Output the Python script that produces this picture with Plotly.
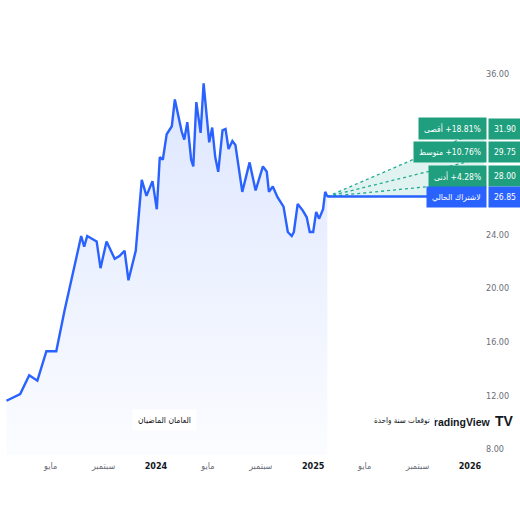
import plotly.graph_objects as go

# ---------------- data ----------------
dates = [
    "2023-01-18", "2023-02-19", "2023-03-12", "2023-03-31", "2023-04-21", "2023-05-14",
    "2023-06-02", "2023-06-14", "2023-06-30", "2023-07-11", "2023-07-18", "2023-07-25",
    "2023-08-16", "2023-08-25", "2023-09-08", "2023-09-27", "2023-10-08", "2023-10-20",
    "2023-10-29", "2023-11-15", "2023-11-29", "2023-12-10", "2023-12-24", "2024-01-03",
    "2024-01-10", "2024-01-17", "2024-01-26", "2024-02-07", "2024-02-14", "2024-03-01",
    "2024-03-07", "2024-03-14", "2024-03-23", "2024-03-28", "2024-04-04", "2024-04-14",
    "2024-04-21", "2024-05-04", "2024-05-11", "2024-05-18", "2024-05-25", "2024-06-04",
    "2024-06-11", "2024-06-18", "2024-06-27", "2024-07-04", "2024-07-20", "2024-08-06",
    "2024-08-20", "2024-09-06", "2024-09-15", "2024-09-20", "2024-09-29", "2024-10-10",
    "2024-10-24", "2024-11-03", "2024-11-12", "2024-11-17", "2024-11-26", "2024-12-08",
    "2024-12-17", "2024-12-24", "2025-01-01", "2025-01-08", "2025-01-15", "2025-01-24",
    "2025-01-29", "2025-02-03",
]
prices = [
    11.6, 12.1, 13.5, 13.1, 15.3, 15.3,
    18.3, 20.0, 22.4, 23.9, 23.1, 23.9,
    23.5, 21.5, 23.5, 22.2, 22.4, 22.8,
    20.6, 22.8, 28.1, 26.9, 28.0, 25.9,
    29.8, 29.6, 31.5, 32.1, 34.1, 31.7,
    31.1, 32.4, 29.6, 29.1, 33.9, 31.6,
    35.3, 30.9, 32.0, 29.8, 28.7, 31.8,
    31.9, 30.4, 31.0, 30.7, 27.2, 29.4,
    27.3, 29.1, 28.7, 27.2, 27.6, 26.8,
    26.1, 24.2, 23.9, 24.2, 26.3, 25.8,
    25.3, 24.2, 24.2, 25.7, 25.2, 25.9,
    27.2, 26.85,
]

forecast_start = "2025-02-03"
forecast_end = "2026-02-03"
current_price = 26.85
fc_values = [31.90, 29.75, 28.00]
fc_pcts = ["+18.81%", "+10.76%", "+4.28%"]
fc_names = ["أقصى", "متوسط", "أدنى"]
current_name = "لاشتراك الحالي"

x_tickvals = ["2023-05-01", "2023-09-01", "2024-01-01", "2024-05-01", "2024-09-01",
              "2025-01-01", "2025-05-01", "2025-09-01", "2026-01-01"]
x_ticktext = ["مايو", "سبتمبر", "<b style='color:#131722'>2024</b>", "مايو", "سبتمبر",
              "<b style='color:#131722'>2025</b>", "مايو", "سبتمبر",
              "<b style='color:#131722'>2026</b>"]
y_tickvals = [8, 12, 16, 20, 24, 36]

past_label = "العامان الماضيان"
future_label = "توقعات سنة واحدة"

BLUE = "#2962ff"
GREEN = "#1f9f7e"
TEAL = "#22ab94"
NARROW = "DejaVu Sans Condensed, Liberation Sans Narrow, sans-serif"
ARAB = "DejaVu Sans Condensed, DejaVu Sans, sans-serif"

fig = go.Figure()

# history area
fig.add_trace(go.Scatter(
    x=dates, y=prices, mode="lines",
    line=dict(color=BLUE, width=2.4),
    fill="tozeroy",
    fillgradient=dict(type="vertical", start=8, stop=34,
                      colorscale=[[0, "rgba(41,98,255,0.02)"], [1, "rgba(41,98,255,0.15)"]]),
    hoverinfo="skip", showlegend=False,
))

# forecast fan fill
fig.add_trace(go.Scatter(
    x=[forecast_start, forecast_end, forecast_end, forecast_start],
    y=[current_price, fc_values[0], current_price, current_price],
    fill="toself", fillcolor="rgba(34,171,148,0.14)", mode="lines",
    line=dict(width=0), hoverinfo="skip", showlegend=False,
))

for v in fc_values:
    fig.add_trace(go.Scatter(
        x=[forecast_start, forecast_end], y=[current_price, v], mode="lines",
        line=dict(color=TEAL, width=1.3, dash="dot"), hoverinfo="skip", showlegend=False,
    ))

fig.add_trace(go.Scatter(
    x=[forecast_start, forecast_end], y=[current_price, current_price], mode="lines",
    line=dict(color=BLUE, width=2.5), hoverinfo="skip", showlegend=False,
))

annotations = []
# TradingView logo
annotations.append(dict(xref="paper", yref="paper", x=1.0144, y=0.080, xanchor="right", yanchor="middle",
                        text="<b>TradingView</b>", showarrow=False,
                        font=dict(family="Liberation Sans, Arial, sans-serif", size=10.5, color="#131722")))
annotations.append(dict(xref="paper", yref="paper", x=1.017, y=0.082, xanchor="left", yanchor="middle",
                        text="<b>TV</b>", showarrow=False,
                        font=dict(family="Liberation Sans, Arial, sans-serif", size=14, color="#131722")))
# period labels
annotations.append(dict(xref="paper", yref="paper", x=0.340, y=0.084, xanchor="center", yanchor="middle",
                        text=past_label, showarrow=False, bgcolor="white", borderpad=5,
                        font=dict(family=ARAB, size=8.5, color="#131722")))
annotations.append(dict(xref="paper", yref="paper", x=0.829, y=0.082, xanchor="center", yanchor="middle",
                        text=future_label, showarrow=False, bgcolor="white", borderpad=4,
                        font=dict(family=ARAB, size=8, color="#131722")))

# badges
shifts = [0, 6, 5]
for v, p, n, s in zip(fc_values, fc_pcts, fc_names, shifts):
    annotations.append(dict(xref="paper", yref="y", x=1, y=v, xanchor="right", yanchor="middle",
                            xshift=2, yshift=s, text=n + "\u200e " + p, showarrow=False,
                            bgcolor=GREEN, borderpad=5,
                            font=dict(family=NARROW, size=8.5, color="white")))
    annotations.append(dict(xref="paper", yref="y", x=1, y=v, xanchor="left", yanchor="middle",
                            xshift=3, yshift=s, text=f"{v:.2f}", showarrow=False,
                            bgcolor=GREEN, borderpad=5,
                            font=dict(family=NARROW, size=8.5, color="white")))
annotations.append(dict(xref="paper", yref="y", x=1, y=current_price, xanchor="right", yanchor="middle",
                        xshift=2, yshift=0, text=current_name, showarrow=False,
                        bgcolor=BLUE, borderpad=5,
                        font=dict(family=ARAB, size=8.5, color="white")))
annotations.append(dict(xref="paper", yref="y", x=1, y=current_price, xanchor="left", yanchor="middle",
                        xshift=3, yshift=0, text=f"{current_price:.2f}", showarrow=False,
                        bgcolor=BLUE, borderpad=5,
                        font=dict(family=NARROW, size=8.5, color="white")))

fig.update_layout(
    width=520, height=520,
    margin=dict(l=0, r=35, t=40, b=65),
    paper_bgcolor="white", plot_bgcolor="white",
    showlegend=False,
    annotations=annotations,
    xaxis=dict(range=["2023-01-03", "2026-02-05"], tickvals=x_tickvals, ticktext=x_ticktext,
               showgrid=False, zeroline=False, showline=False, ticks="", ticklabelstandoff=4,
               tickfont=dict(family=ARAB, size=9, color="#6a6d78")),
    yaxis=dict(range=[7.55, 38.54], side="right", tickvals=y_tickvals, tickformat=".2f",
               showgrid=False, zeroline=False, showline=False, ticks="",
               tickfont=dict(family=NARROW, size=9, color="#6a6d78")),
)

fig.write_html("out.html", config={"displayModeBar": False},
               post_script="document.body.style.margin='0';")
